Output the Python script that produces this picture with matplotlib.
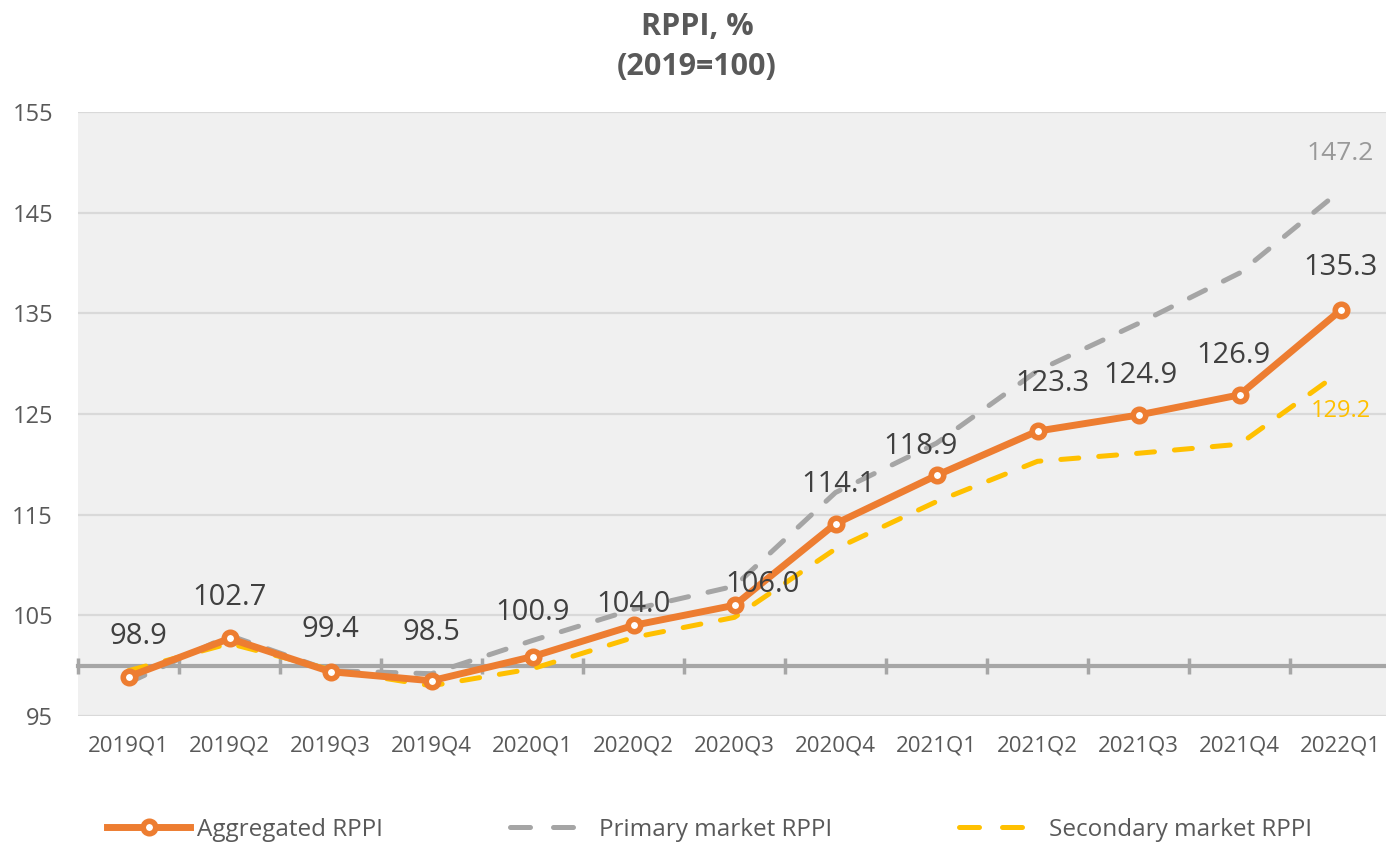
import matplotlib.pyplot as plt
from matplotlib.lines import Line2D
from matplotlib.ticker import FixedLocator

quarters = ["2019Q1", "2019Q2", "2019Q3", "2019Q4", "2020Q1", "2020Q2", "2020Q3",
            "2020Q4", "2021Q1", "2021Q2", "2021Q3", "2021Q4", "2022Q1"]
aggregated = [98.9, 102.7, 99.4, 98.5, 100.9, 104.0, 106.0, 114.1, 118.9, 123.3, 124.9, 126.9, 135.3]
primary = [98.3, 103.0, 99.5, 99.2, 102.5, 105.6, 107.9, 117.2, 122.1, 129.3, 134.0, 139.0, 147.2]
secondary = [99.5, 102.2, 99.6, 98.0, 99.7, 102.8, 104.8, 111.6, 116.3, 120.3, 121.1, 122.0, 129.2]

ORANGE = '#ed7d31'
GRAY = '#a5a5a5'
YELLOW = '#ffc000'
TEXT = '#595959'
FONT = ['Open Sans', 'DejaVu Sans']

# label offsets (pixels) for aggregated values, as placed in the original
label_dx = [10, 0, 0, 0, 0, 0, 28, 3, -16, 15, 2, -6, 0]
label_dy = [40, 41, 42, 48, 44, 21, 21, 39, 29, 48, 40, 39, 43]

fig = plt.figure(figsize=(13.86, 8.46), dpi=100)
W, H = 1386, 846
ax = fig.add_axes([78 / W, (H - 716) / H, 1313 / W, 604 / H])
ax.set_facecolor('#f0f0f0')

x = list(range(len(quarters)))
ax.plot(x, primary, color=GRAY, lw=3.6, dashes=(3.6, 4.0),
        dash_capstyle='round', zorder=3)
ax.plot(x, secondary, color=YELLOW, lw=3.6, dashes=(3.6, 4.0),
        dash_capstyle='round', zorder=4)
agg_line, = ax.plot(x, aggregated, color=ORANGE, lw=5, marker='o', markersize=9,
                    markerfacecolor='white', markeredgecolor=ORANGE, markeredgewidth=4,
                    zorder=5)

for i, v in enumerate(aggregated):
    ax.annotate(f"{v:.1f}", (i, v), xytext=(label_dx[i] * 0.72, label_dy[i] * 0.72),
                textcoords='offset points', ha='center', va='center',
                fontsize=21, color='#404040', family=FONT, zorder=6)
ax.annotate(f"{primary[-1]:.1f}", (x[-1], primary[-1]), xytext=(0, 37 * 0.72),
            textcoords='offset points', ha='center', va='center',
            fontsize=19, color='#999999', family=FONT, zorder=6)
ax.annotate(f"{secondary[-1]:.1f}", (x[-1], secondary[-1]), xytext=(0, -39 * 0.72),
            textcoords='offset points', ha='center', va='center',
            fontsize=17, color=YELLOW, family=FONT, zorder=6)

ax.set_xlim(-0.5, len(quarters) - 0.5)
ax.set_ylim(95, 155)
ax.set_yticks(range(95, 156, 10))
ax.grid(axis='y', color='#d9d9d9', lw=1.6, zorder=0)
ax.set_axisbelow(True)

for s in ['top', 'right', 'left']:
    ax.spines[s].set_visible(False)
# category axis crosses at 100
ax.spines['bottom'].set_position(('data', 100))
ax.spines['bottom'].set_color('#a6a6a6')
ax.spines['bottom'].set_linewidth(3)
ax.spines['bottom'].set_zorder(2)

ax.set_xticks(x)
ax.set_xticklabels(quarters, fontsize=16, color=TEXT, family=FONT)
ax.xaxis.set_minor_locator(FixedLocator([i - 0.5 for i in range(len(quarters) + 1)]))
ax.tick_params(axis='x', which='major', length=0, pad=50)
ax.tick_params(axis='x', which='minor', length=12, width=2.5, direction='inout', color='#a6a6a6')
ax.tick_params(axis='y', length=0, pad=18, labelsize=17, labelcolor=TEXT)
for t in ax.get_yticklabels():
    t.set_family(FONT)

fig.text(697 / W, (H - 27) / H, "RPPI, %", ha='center', va='center', fontsize=22,
         fontweight='bold', color=TEXT, family=FONT)
fig.text(697 / W, (H - 67) / H, "(2019=100)", ha='center', va='center', fontsize=22,
         fontweight='bold', color=TEXT, family=FONT)

# legend handles: two dashes each, like the original key
prim_key = Line2D([], [], color=GRAY, lw=3.6, dashes=(4.0, 4.6), dash_capstyle='round')
sec_key = Line2D([], [], color=YELLOW, lw=3.6, dashes=(4.0, 4.6), dash_capstyle='round')
leg = fig.legend([agg_line, prim_key, sec_key],
                 ['Aggregated RPPI', 'Primary market RPPI', 'Secondary market RPPI'],
                 loc='center', bbox_to_anchor=(0.512, (H - 830) / H), ncol=3,
                 frameon=False, handlelength=3.4, columnspacing=5.2, handletextpad=0.3,
                 prop={'family': FONT, 'size': 17.5})
for t in leg.get_texts():
    t.set_color(TEXT)

fig.savefig('out.png', dpi=100)
